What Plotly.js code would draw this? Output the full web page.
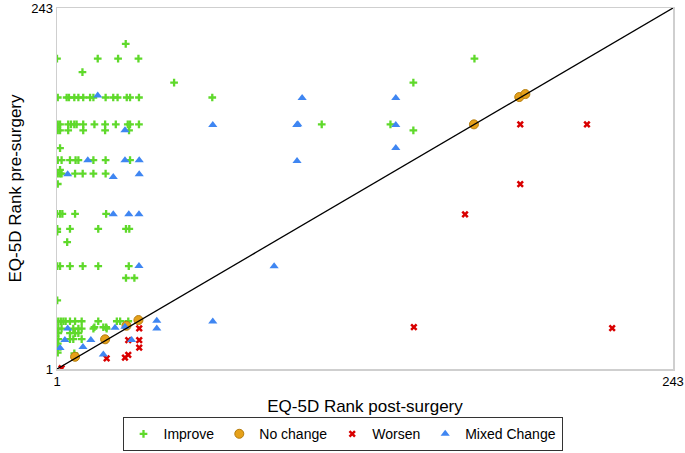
<!DOCTYPE html>
<html>
<head>
<meta charset="utf-8">
<script src="https://cdn.plot.ly/plotly-3.0.1.min.js"></script>
<style>html,body{margin:0;padding:0;background:#fff;}#chart{width:685px;height:453px;}</style>
</head>
<body>
<div id="chart"></div>
<script>
// ---- Data ----
const axisTickVals = [1, 243];
const axisTickText = ["1", "243"];

const improveX = [28, 1, 17, 25, 33, 11, 47, 141, 165,
  1.3, 4.8, 5.7, 7.8, 9.4, 11.3, 14, 15.3, 20.1, 23.1, 24.8, 28.4, 29.7, 33.2, 62,
  1.3, 2.2, 5.4, 6.5, 7.8, 8.7, 11.3, 15.7, 19.9, 24.1, 28.8, 29.7, 33.2, 105, 132,
  1.3, 2.2, 5.4, 11.3, 19.9, 29.3, 141,
  2.2,
  1.3, 2.8, 6.1, 8.3, 9.4, 15.3, 20.1, 29.7,
  1.3, 2.2, 2.8, 8.1, 11.1, 15.3, 20.1, 2.2,
  1.3,
  1, 2.2, 3.1, 8.1, 20.3,
  1.1, 6.1, 17.2, 28.1, 29.4, 1.1,
  5,
  1.1, 2.2, 6.1, 11.1, 17.2, 29.2,
  28.1, 31.4,
  1.1,
  1.5, 2.5, 3.5, 4.4, 6.1, 8.1, 10.7, 17.2, 24.5, 25.8, 29,
  15.7, 19.2, 20.3,
  1.5, 2.8, 7.4, 9.4, 10.7, 15.3, 20.5,
  1.5, 6.1, 8.1, 9.4,
  1.5, 6.1, 7.4, 10.7,
  1.3, 1.3, 1.3, 7.8];
const improveY = [219, 209, 209, 209, 209, 200, 193, 193, 209,
  183, 183, 183, 183, 183, 183, 183, 183, 183, 183, 183, 183, 183, 183, 183,
  165, 165, 165, 165, 165, 165, 165, 165, 165, 165, 165, 165, 165, 165, 165,
  161, 161, 161, 161, 161, 161, 161,
  149,
  141, 141, 141, 141, 141, 141, 141, 141,
  132, 132, 132, 132, 132, 132, 132, 134.5,
  125,
  105, 105, 105, 105, 105,
  95, 95, 95, 95, 95, 93,
  86,
  70, 70, 70, 70, 70, 70,
  62, 62,
  47,
  33, 33, 33, 33, 33, 33, 33, 33, 33, 33, 33,
  29, 29, 29,
  28, 28, 28, 28, 28, 28, 28,
  25, 25, 25, 25,
  21, 21, 21, 21,
  18, 14, 12, 11.5];

const noChangeX = [8.1, 19.9, 28.3, 33, 164.8, 182.6, 185];
const noChangeY = [9.2, 20.9, 30, 33.8, 165, 183.3, 185.3];

const worsenX = [2.8, 20.5, 27.7, 29, 33.3, 33.3, 29, 33.3, 161.3, 141.2, 219.1, 183, 209.2, 183];
const worsenY = [1.5, 8.2, 8.6, 10.4, 15.3, 20.4, 20.4, 28.2, 104.7, 29.1, 28.4, 165, 165, 125];

const mixedX = [17, 97.3, 134.1, 62.2, 95.2, 95.6, 134.1, 134.1, 95.3, 27.7, 13.1, 27.7, 33.3,
  5.2, 23.1, 33.3, 23.1, 29.2, 33.2, 86.3, 33.2, 62.2, 40.2, 40.2, 5.2, 23.8, 27.7,
  4.1, 14.3, 30.3, 2.2, 11.2, 19.2];
const mixedY = [184.3, 182.6, 182.6, 164.5, 164.5, 165, 164.5, 149.1, 140.4, 161, 141, 141, 141,
  131.5, 129.7, 131.5, 104.7, 104.7, 104.7, 69.9, 70.1, 32.9, 33.3, 28.2, 28.2, 28.6, 29.3,
  20.4, 20.4, 20.4, 15.1, 15.8, 10.8];

const diagX = [1, 243];
const diagY = [1, 243];

// ---- Traces ----
const traces = [
  {x: improveX, y: improveY, name: "Improve", type: "scatter", mode: "markers",
   marker: {symbol: "cross-thin", size: 5.5, color: "#5fd92b", line: {color: "#5fd92b", width: 2.3}}},
  {x: noChangeX, y: noChangeY, name: "No change", type: "scatter", mode: "markers",
   marker: {symbol: "circle", size: 9, color: "#e6a11a", line: {color: "#b57d0e", width: 1}}},
  {x: worsenX, y: worsenY, name: "Worsen", type: "scatter", mode: "markers",
   marker: {symbol: "x-thin", size: 5.5, color: "#d90000", line: {color: "#d90000", width: 2.5}}},
  {x: mixedX, y: mixedY, name: "Mixed Change", type: "scatter", mode: "markers",
   marker: {symbol: "triangle-up", size: 8, color: "#3f86f2", line: {width: 0}}},
  {x: diagX, y: diagY, type: "scatter", mode: "lines", showlegend: false, hoverinfo: "skip",
   line: {color: "#000000", width: 1.3}}
];

const font = {family: "Liberation Sans, Arial, sans-serif", color: "#000"};

const layout = {
  width: 685, height: 453,
  margin: {l: 57, r: 12, t: 8, b: 84},
  paper_bgcolor: "#fff", plot_bgcolor: "#fff",
  font: font,
  showlegend: true,
  xaxis: {
    range: [1, 243], tickvals: axisTickVals, ticktext: axisTickText,
    showgrid: false, zeroline: false, showline: true, mirror: true,
    linecolor: "#cfcfcf", linewidth: 1.5, ticks: "", automargin: false,
    tickfont: {size: 13, family: font.family, color: "#000"},
    title: {text: "EQ-5D Rank post-surgery", font: {size: 17, family: font.family, color: "#000"}, standoff: 12}
  },
  yaxis: {
    range: [1, 243], tickvals: axisTickVals, ticktext: axisTickText,
    showgrid: false, zeroline: false, showline: true, mirror: true,
    linecolor: "#cfcfcf", linewidth: 1.5, ticks: "", automargin: false,
    tickfont: {size: 13, family: font.family, color: "#000"},
    title: {text: "EQ-5D Rank pre-surgery", font: {size: 17, family: font.family, color: "#000"}, standoff: 5}
  },
  legend: {
    orientation: "h", xref: "container", yref: "container",
    x: 0.5, xanchor: "center", y: 0.004, yanchor: "bottom",
    bordercolor: "#333", borderwidth: 1, bgcolor: "#fff",
    font: {size: 14, family: font.family, color: "#000"},
    tracegroupgap: 0, itemwidth: 30
  }
};

Plotly.newPlot("chart", traces, layout, {displayModeBar: false, staticPlot: true});
</script>
</body>
</html>
